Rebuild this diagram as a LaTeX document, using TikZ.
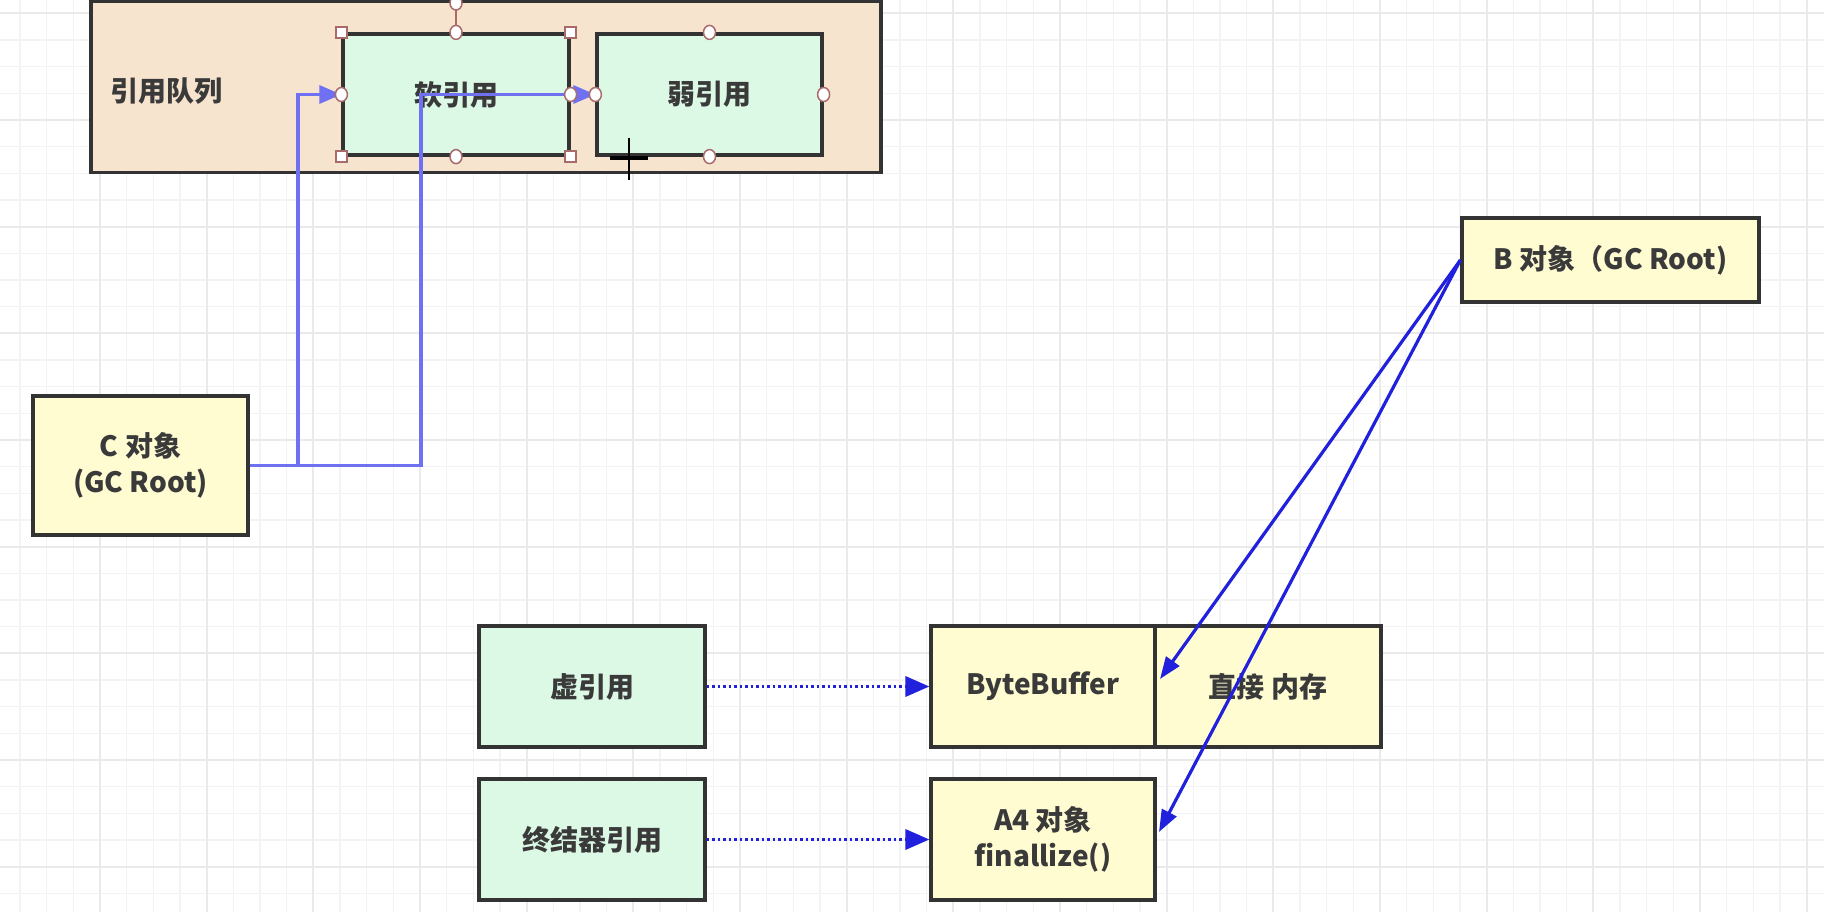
\documentclass[tikz,border=0pt]{standalone}
\usepackage{fontspec}
\setmainfont{Noto Sans CJK SC}
\usetikzlibrary{arrows.meta,shapes.geometric}
\definecolor{queuefill}{HTML}{F7E4CF}
\definecolor{greenfill}{HTML}{DCF9E6}
\definecolor{yellowfill}{HTML}{FFFCD2}
\definecolor{boxline}{HTML}{333333}
\definecolor{txt}{HTML}{3A3A3A}
\definecolor{lightblue}{HTML}{7070F2}
\definecolor{deepblue}{HTML}{2020DD}
\definecolor{handle}{HTML}{A86A6A}
\definecolor{gridminor}{HTML}{F3F3F3}
\definecolor{gridmajor}{HTML}{EAEAEA}
\tikzset{
  box/.style={draw=boxline, line width=3.2pt, rectangle, inner sep=0pt, align=center,
    text=txt, font=\fontsize{28}{36}\selectfont\bfseries},
  greenbox/.style={box, fill=greenfill, minimum width=226pt, minimum height=121pt},
  yellowbox/.style={box, fill=yellowfill},
  softarrow/.style={draw=lightblue, line width=3.2pt, -{Triangle[length=22pt,width=18pt]}},
  hardarrow/.style={draw=deepblue, line width=3.2pt, -{Triangle[length=22pt,width=16pt]}},
  dotarrow/.style={draw=deepblue, line width=3.4pt, dash pattern=on 2.5pt off 3pt,
    -{Triangle[length=24pt,width=20pt]}},
  sqhandle/.style={draw=handle, fill=white, line width=1.5pt, minimum size=11pt, inner sep=0pt, rectangle},
  cihandle/.style={draw=handle, fill=white, line width=1.5pt, minimum width=12pt, minimum height=14pt, inner sep=0pt, ellipse},
}
\begin{document}
\begin{tikzpicture}[x=1pt,y=-1pt]
\useasboundingbox (0,0) rectangle (1824,912);
\fill[white] (0,0) rectangle (1824,912);
% grid
\foreach \i in {0,...,68} {
  \draw[gridminor, line width=1.5pt] ({20+26.667*\i},0) -- ({20+26.667*\i},912);
}
\foreach \j in {0,...,34} {
  \draw[gridminor, line width=1.5pt] (0,{13.333+26.667*\j}) -- (1824,{13.333+26.667*\j});
}
\foreach \i in {0,...,16} {
  \draw[gridmajor, line width=1.8pt] ({100+106.667*\i},0) -- ({100+106.667*\i},912);
}
\foreach \j in {0,...,8} {
  \draw[gridmajor, line width=1.8pt] (0,{13.333+106.667*\j}) -- (1824,{13.333+106.667*\j});
}

% reference queue
\node[box, fill=queuefill, minimum width=790pt, minimum height=171pt] (queue) at (486,87) {};
\node[text=txt, font=\fontsize{28}{36}\selectfont\bfseries] (qlabel) at (166,91) {引用队列};
\node[greenbox, minimum width=226pt] (soft) at (456,94.5) {软引用};
\node[greenbox, minimum width=225pt] (weak) at (709.5,94.5) {弱引用};

% C object
\node[yellowbox, minimum width=215pt, minimum height=139pt] (C) at (140.5,465.5) {C 对象\\(GC Root)};
% B object
\node[yellowbox, minimum width=297pt, minimum height=84pt] (B) at (1610.5,260) {B 对象（GC Root)};

% bottom row
\node[greenbox] (xu) at (592,686.5) {虚引用};
\node[yellowbox, minimum width=224pt, minimum height=121pt] (bb) at (1043,686.5) {ByteBuffer};
\node[yellowbox, minimum width=226pt, minimum height=121pt] (mem) at (1268,686.5) {直接 内存};
\node[greenbox] (zj) at (592,839.5) {终结器引用};
\node[yellowbox, minimum width=224pt, minimum height=121pt] (a4) at (1043,839.5) {A4 对象\\finallize()};

% C -> soft, C -> weak
\coordinate (c1) at (298,465.5);
\coordinate (c2) at (421,465.5);
\draw[softarrow] (C.east) -- (c1) |- (soft.west);
\draw[softarrow] (C.east) -- (c2) |- (weak.west);

% B -> ByteBuffer, B -> A4
\coordinate (bbin) at (1160,679);
\coordinate (a4in) at (1159,832);
\draw[hardarrow] (B.west) -- (bbin);
\draw[hardarrow] (B.west) -- (a4in);

% dotted arrows
\draw[dotarrow] (xu.east) -- (bb.west);
\draw[dotarrow] (zj.east) -- (a4.west);

% selection handles on soft reference
\coordinate (rot) at (456,3);
\draw[handle, line width=1.5pt] (soft.north) -- (rot);
\node[cihandle] (h0) at (rot) {};
\node[sqhandle] (h1) at (soft.north west) {};
\node[sqhandle] (h2) at (soft.north east) {};
\node[sqhandle] (h3) at (soft.south west) {};
\node[sqhandle] (h4) at (soft.south east) {};
\node[cihandle] (h5) at (soft.north) {};
\node[cihandle] (h6) at (soft.south) {};
\node[cihandle] (h7) at (soft.west) {};
\node[cihandle] (h8) at (soft.east) {};
% connection points on weak reference
\node[cihandle] (w1) at (weak.north) {};
\node[cihandle] (w2) at (weak.south) {};
\node[cihandle] (w3) at (weak.west) {};
\node[cihandle] (w4) at (weak.east) {};

% cursor
\draw[black, line width=2pt] (629,138) -- (629,180);
\draw[black, line width=4pt] (610,158) -- (648,158);
\end{tikzpicture}
\end{document}
